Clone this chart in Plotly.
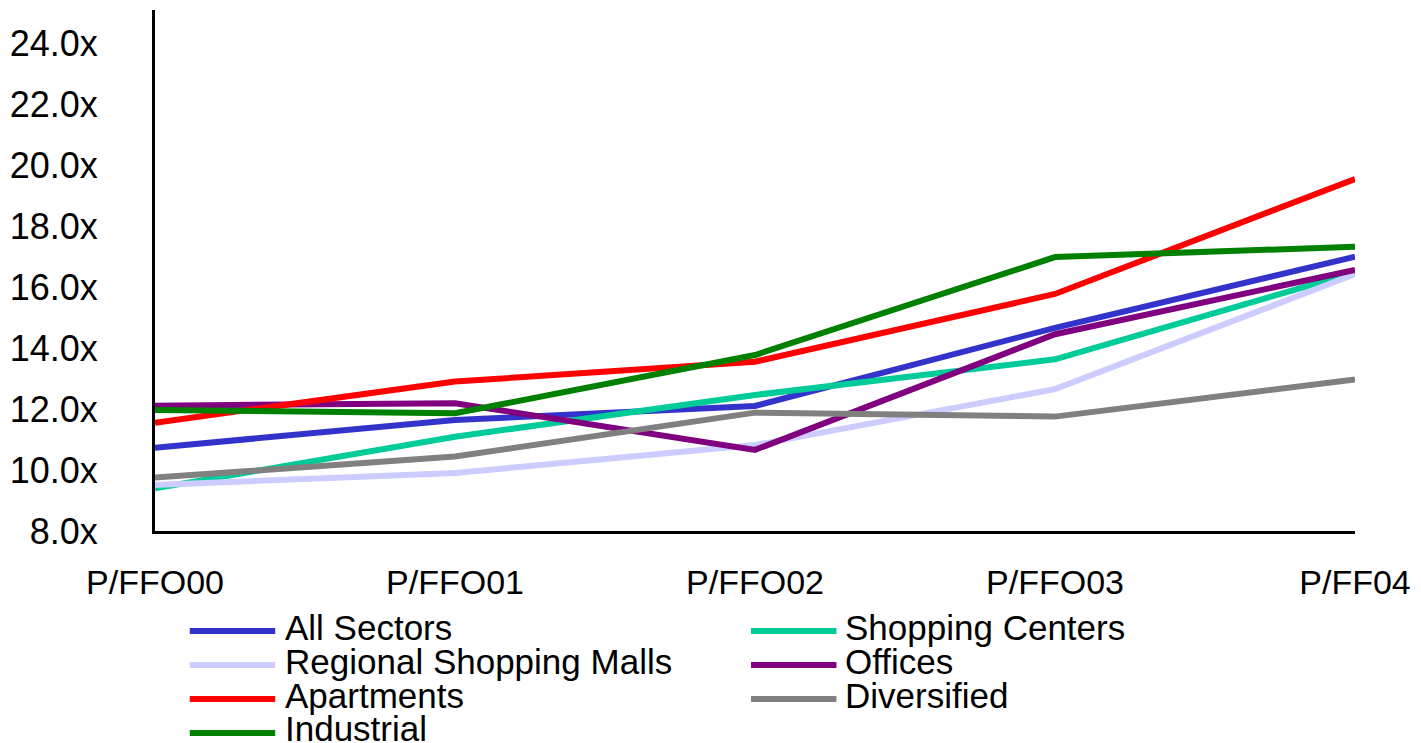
import plotly.graph_objects as go

# Price / FFO multiples by property sector
periods = ["P/FFO00", "P/FFO01", "P/FFO02", "P/FFO03", "P/FF04"]

all_sectors = [10.73, 11.64, 12.10, 14.66, 16.99]
shopping_centers = [9.40, 11.09, 12.46, 13.63, 16.48]
regional_malls = [9.51, 9.90, 10.82, 12.65, 16.42]
offices = [12.11, 12.19, 10.66, 14.45, 16.56]
apartments = [11.55, 12.90, 13.55, 15.77, 19.54]
diversified = [9.75, 10.44, 11.88, 11.75, 12.97]
industrial = [11.97, 11.86, 13.77, 16.98, 17.32]

series_names = ["All Sectors", "Shopping Centers", "Regional Shopping Malls",
                "Offices", "Apartments", "Diversified", "Industrial"]
series_values = [all_sectors, shopping_centers, regional_malls,
                 offices, apartments, diversified, industrial]
series_colors = ["#3333CC", "#00CC99", "#CCCCFF", "#800080",
                 "#FF0000", "#808080", "#008000"]

y_ticks = [8, 10, 12, 14, 16, 18, 20, 22, 24]
y_tick_labels = [f"{v:.1f}x" for v in y_ticks]

FONT = "Liberation Sans, Arial, sans-serif"
LINE_W = 6

W, H = 1421, 743
left, right, top, bottom = 155, 58, 10, 212
pw, ph = W - left - right, H - top - bottom

fig = go.Figure()
x_idx = list(range(len(periods)))
for name, vals, col in zip(series_names, series_values, series_colors):
    fig.add_trace(go.Scatter(
        x=x_idx, y=vals, mode="lines", name=name,
        line=dict(color=col, width=LINE_W),
        showlegend=False, hoverinfo="x+y+name",
    ))


def px_to_paper_x(px):
    return (px - left) / pw


def px_to_paper_y(py):
    return (H - bottom - py) / ph


# Two-column legend built from shapes and annotations (row-major order)
col_line_x = [(190, 276), (755, 841)]
col_text_x = [284, 848]
row_y = [631, 665, 699, 733]

for i, (name, col) in enumerate(zip(series_names, series_colors)):
    r, c = divmod(i, 2)
    x0, x1 = col_line_x[c]
    yy = row_y[r]
    fig.add_shape(
        type="line", xref="paper", yref="paper",
        x0=px_to_paper_x(x0), x1=px_to_paper_x(x1),
        y0=px_to_paper_y(yy), y1=px_to_paper_y(yy),
        line=dict(color=col, width=LINE_W),
    )
    fig.add_annotation(
        xref="paper", yref="paper",
        x=px_to_paper_x(col_text_x[c]), y=px_to_paper_y(yy - 4),
        text=name, showarrow=False, xanchor="left", yanchor="middle",
        font=dict(family=FONT, size=35, color="black"),
    )

fig.update_layout(
    width=W, height=H,
    margin=dict(l=left, r=right, t=top, b=bottom),
    paper_bgcolor="white", plot_bgcolor="white",
    showlegend=False,
    font=dict(family=FONT, size=35, color="black"),
)
fig.update_xaxes(
    range=[0, len(periods) - 1],
    tickvals=x_idx, ticktext=periods,
    showgrid=False, zeroline=False,
    showline=True, linecolor="black", linewidth=3,
    ticks="outside", ticklen=19, tickcolor="rgba(0,0,0,0)",
    tickfont=dict(size=34), ticklabeloverflow="allow",
)
fig.update_yaxes(
    range=[8, 25.08],
    tickvals=y_ticks, ticktext=y_tick_labels,
    showgrid=False, zeroline=False,
    showline=True, linecolor="black", linewidth=3,
    ticks="outside", ticklen=47, tickcolor="rgba(0,0,0,0)",
    tickfont=dict(size=36),
)

fig.write_html("out.html")
